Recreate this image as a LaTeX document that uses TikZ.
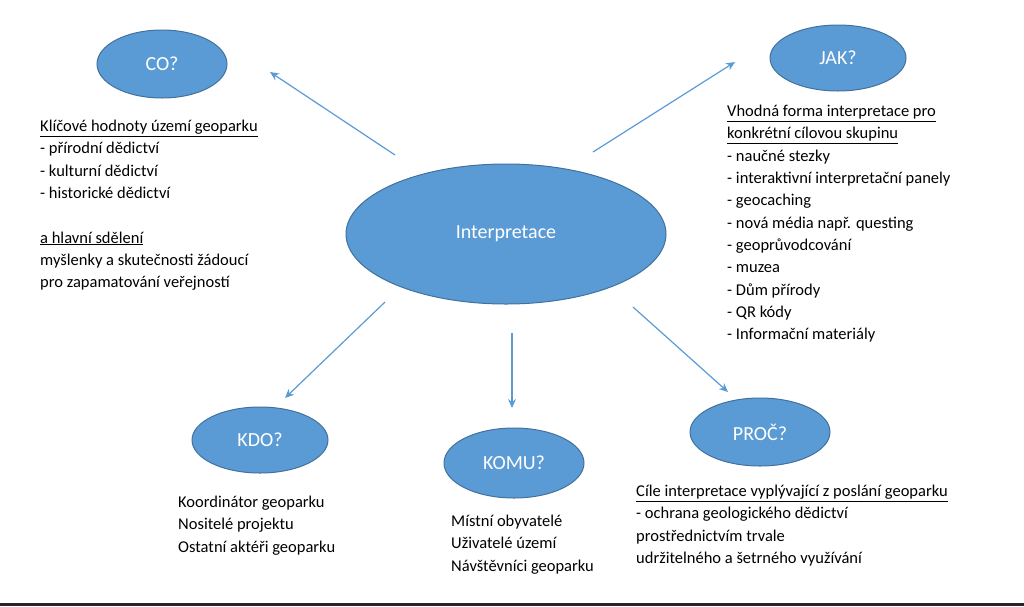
\documentclass[tikz,border=0pt]{standalone}
\usepackage{fontspec}
\setmainfont{Carlito}
\usetikzlibrary{arrows.meta,shapes.geometric}
\definecolor{bub}{HTML}{5B9BD5}
\definecolor{bubd}{HTML}{41719C}
\begin{document}
\begin{tikzpicture}[x=1pt,y=-1pt,
  bubble/.style={ellipse,fill=bub,draw=bubd,line width=1pt,text=white,font=\fontsize{20}{22}\selectfont,inner sep=0pt},
  txt/.style={anchor=north west,align=left,inner sep=0pt,font=\fontsize{16.5}{22.3}\selectfont},
  arr/.style={draw=bub,line width=1.2pt,-{Stealth[length=9pt,width=8pt]}}]
\useasboundingbox (0,0) rectangle (1024,606);
\fill[black!85] (0,603) rectangle (1024,606);
\node[bubble,minimum width=130,minimum height=68] (co) at (162,64) {CO?};
\node[bubble,minimum width=136,minimum height=66] (jak) at (838,58) {JAK?};
\node[bubble,minimum width=320,minimum height=140] (int) at (506,234) {Interpretace};
\node[bubble,minimum width=136,minimum height=66] (kdo) at (260,440) {KDO?};
\node[bubble,minimum width=140,minimum height=70] (komu) at (514,463) {KOMU?};
\node[bubble,minimum width=140,minimum height=68] (proc) at (760,432) {PROČ?};
\coordinate (a1s) at (395,155); \coordinate (a1e) at (270,72);
\coordinate (a2s) at (593,152); \coordinate (a2e) at (735,62);
\coordinate (a3s) at (385,302); \coordinate (a3e) at (285,398);
\coordinate (a4s) at (512,333); \coordinate (a4e) at (512,408);
\coordinate (a5s) at (633,307); \coordinate (a5e) at (728,392);
\draw[arr] (a1s) -- (a1e);
\draw[arr] (a2s) -- (a2e);
\draw[arr] (a3s) -- (a3e);
\draw[arr] (a4s) -- (a4e);
\draw[arr] (a5s) -- (a5e);
\node[txt] (tco) at (40,120) {\underline{Klíčové hodnoty území geoparku}\\- přírodní dědictví\\- kulturní dědictví\\- historické dědictví\\[22.3pt]\underline{a hlavní sdělení}\\myšlenky a skutečnosti žádoucí\\pro zapamatování veřejností};
\node[txt] (tjak) at (727,105) {\underline{Vhodná forma interpretace pro}\\\underline{konkrétní cílovou skupinu}\\- naučné stezky\\- interaktivní interpretační panely\\- geocaching\\- nová média např. questing\\- geoprůvodcování\\- muzea\\- Dům přírody\\- QR kódy\\- Informační materiály};
\node[txt] (tkdo) at (178,496) {Koordinátor geoparku\\Nositelé projektu\\Ostatní aktéři geoparku};
\node[txt] (tkomu) at (451,515) {Místní obyvatelé\\Uživatelé území\\Návštěvníci geoparku};
\node[txt] (tproc) at (636,485) {\underline{Cíle interpretace vyplývající z poslání geoparku}\\- ochrana geologického dědictví\\prostřednictvím trvale\\udržitelného a šetrného využívání};
\end{tikzpicture}
\end{document}
